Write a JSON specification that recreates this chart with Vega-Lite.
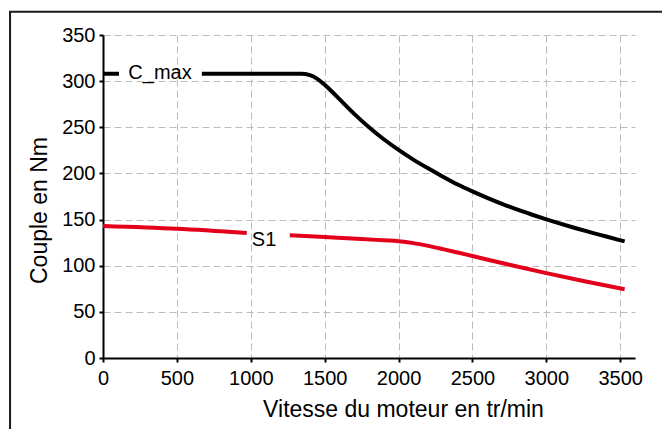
{
  "$schema": "https://vega.github.io/schema/vega-lite/v6.json",
  "width": 532,
  "height": 323,
  "autosize": {"type": "none"},
  "padding": {"left": 103, "top": 35, "right": 27, "bottom": 71},
  "background": "white",
  "config": {
    "view": {"stroke": null},
    "font": "Liberation Sans",
    "axis": {
      "labelFont": "Liberation Sans",
      "titleFont": "Liberation Sans",
      "labelFontSize": 20,
      "titleFontSize": 23,
      "titleFontWeight": "normal",
      "labelColor": "black",
      "titleColor": "black",
      "domainColor": "black",
      "domainWidth": 2,
      "tickColor": "black",
      "tickWidth": 2,
      "tickSize": 4,
      "gridColor": "#bcbcbc",
      "gridDash": [7, 4],
      "gridWidth": 1,
      "format": "d"
    }
  },
  "datasets": {
    "curves": [
      {"serie": "C_max", "seg": "C1", "vitesse": 0, "couple": 308},
      {"serie": "C_max", "seg": "C1", "vitesse": 108, "couple": 308},
      {"serie": "C_max", "seg": "C2", "vitesse": 669, "couple": 308},
      {"serie": "C_max", "seg": "C2", "vitesse": 1000, "couple": 308},
      {"serie": "C_max", "seg": "C2", "vitesse": 1340, "couple": 308},
      {"serie": "C_max", "seg": "C2", "vitesse": 1400, "couple": 306.5},
      {"serie": "C_max", "seg": "C2", "vitesse": 1450, "couple": 302.5},
      {"serie": "C_max", "seg": "C2", "vitesse": 1500, "couple": 296},
      {"serie": "C_max", "seg": "C2", "vitesse": 1550, "couple": 288.5},
      {"serie": "C_max", "seg": "C2", "vitesse": 1600, "couple": 280.5},
      {"serie": "C_max", "seg": "C2", "vitesse": 1700, "couple": 264.5},
      {"serie": "C_max", "seg": "C2", "vitesse": 1800, "couple": 250},
      {"serie": "C_max", "seg": "C2", "vitesse": 1900, "couple": 237},
      {"serie": "C_max", "seg": "C2", "vitesse": 2000, "couple": 225.5},
      {"serie": "C_max", "seg": "C2", "vitesse": 2100, "couple": 215},
      {"serie": "C_max", "seg": "C2", "vitesse": 2200, "couple": 205.5},
      {"serie": "C_max", "seg": "C2", "vitesse": 2300, "couple": 196.5},
      {"serie": "C_max", "seg": "C2", "vitesse": 2400, "couple": 188},
      {"serie": "C_max", "seg": "C2", "vitesse": 2500, "couple": 180.5},
      {"serie": "C_max", "seg": "C2", "vitesse": 2600, "couple": 173.5},
      {"serie": "C_max", "seg": "C2", "vitesse": 2700, "couple": 167},
      {"serie": "C_max", "seg": "C2", "vitesse": 2800, "couple": 161},
      {"serie": "C_max", "seg": "C2", "vitesse": 2900, "couple": 155.5},
      {"serie": "C_max", "seg": "C2", "vitesse": 3000, "couple": 150.3},
      {"serie": "C_max", "seg": "C2", "vitesse": 3100, "couple": 145.3},
      {"serie": "C_max", "seg": "C2", "vitesse": 3200, "couple": 140.6},
      {"serie": "C_max", "seg": "C2", "vitesse": 3300, "couple": 136.2},
      {"serie": "C_max", "seg": "C2", "vitesse": 3400, "couple": 131.9},
      {"serie": "C_max", "seg": "C2", "vitesse": 3530, "couple": 126.3},
      {"serie": "S1", "seg": "S1a", "vitesse": 0, "couple": 143},
      {"serie": "S1", "seg": "S1a", "vitesse": 500, "couple": 140},
      {"serie": "S1", "seg": "S1a", "vitesse": 973, "couple": 135.5},
      {"serie": "S1", "seg": "S1b", "vitesse": 1264, "couple": 133},
      {"serie": "S1", "seg": "S1b", "vitesse": 1500, "couple": 131},
      {"serie": "S1", "seg": "S1b", "vitesse": 1750, "couple": 129},
      {"serie": "S1", "seg": "S1b", "vitesse": 1900, "couple": 127.5},
      {"serie": "S1", "seg": "S1b", "vitesse": 2000, "couple": 126.5},
      {"serie": "S1", "seg": "S1b", "vitesse": 2100, "couple": 124.5},
      {"serie": "S1", "seg": "S1b", "vitesse": 2200, "couple": 121.5},
      {"serie": "S1", "seg": "S1b", "vitesse": 2300, "couple": 118},
      {"serie": "S1", "seg": "S1b", "vitesse": 2400, "couple": 114.3},
      {"serie": "S1", "seg": "S1b", "vitesse": 2500, "couple": 110.5},
      {"serie": "S1", "seg": "S1b", "vitesse": 2750, "couple": 101},
      {"serie": "S1", "seg": "S1b", "vitesse": 3000, "couple": 92},
      {"serie": "S1", "seg": "S1b", "vitesse": 3250, "couple": 83.5},
      {"serie": "S1", "seg": "S1b", "vitesse": 3530, "couple": 74.5}
    ],
    "labels": [
      {"serie": "C_max", "texte": "C_max", "vitesse": 386, "couple": 309},
      {"serie": "S1", "texte": "S1", "vitesse": 1090, "couple": 128}
    ],
    "frame": [
      {"x1": -629, "x2": 4200, "y1": 375.2, "y2": -120}
    ]
  },
  "layer": [
    {
      "data": {"name": "frame"},
      "mark": {"type": "rect", "fill": null, "stroke": "#1a1a1a", "strokeWidth": 2, "clip": false},
      "encoding": {
        "x": {"field": "x1", "type": "quantitative", "scale": {"domain": [0, 3600], "nice": false, "zero": false}},
        "x2": {"field": "x2"},
        "y": {"field": "y1", "type": "quantitative", "scale": {"domain": [0, 350], "nice": false, "zero": false}},
        "y2": {"field": "y2"}
      }
    },
    {
      "data": {"name": "curves"},
      "mark": {"type": "line", "strokeWidth": 4, "interpolate": "monotone", "clip": false},
      "encoding": {
        "x": {
          "field": "vitesse", "type": "quantitative",
          "scale": {"domain": [0, 3600], "nice": false, "zero": false},
          "axis": {
            "values": [0, 500, 1000, 1500, 2000, 2500, 3000, 3500],
            "title": "Vitesse du moteur en tr/min",
            "labelPadding": 6,
            "titlePadding": 10,
            "titleX": 300,
            "labelFlush": false
          }
        },
        "y": {
          "field": "couple", "type": "quantitative",
          "scale": {"domain": [0, 350], "nice": false, "zero": false},
          "axis": {
            "values": [0, 50, 100, 150, 200, 250, 300, 350],
            "title": "Couple en Nm",
            "labelPadding": 4,
            "titlePadding": 10,
            "titleY": 175,
            "labelFlush": false
          }
        },
        "detail": {"field": "seg"},
        "color": {
          "field": "serie", "type": "nominal",
          "scale": {"domain": ["C_max", "S1"], "range": ["#000000", "#e2001a"]},
          "legend": null
        }
      }
    },
    {
      "data": {"name": "labels"},
      "mark": {"type": "text", "font": "Liberation Sans", "fontSize": 20, "color": "black", "baseline": "middle", "align": "center"},
      "encoding": {
        "x": {"field": "vitesse", "type": "quantitative"},
        "y": {"field": "couple", "type": "quantitative"},
        "text": {"field": "texte"}
      }
    }
  ]
}
